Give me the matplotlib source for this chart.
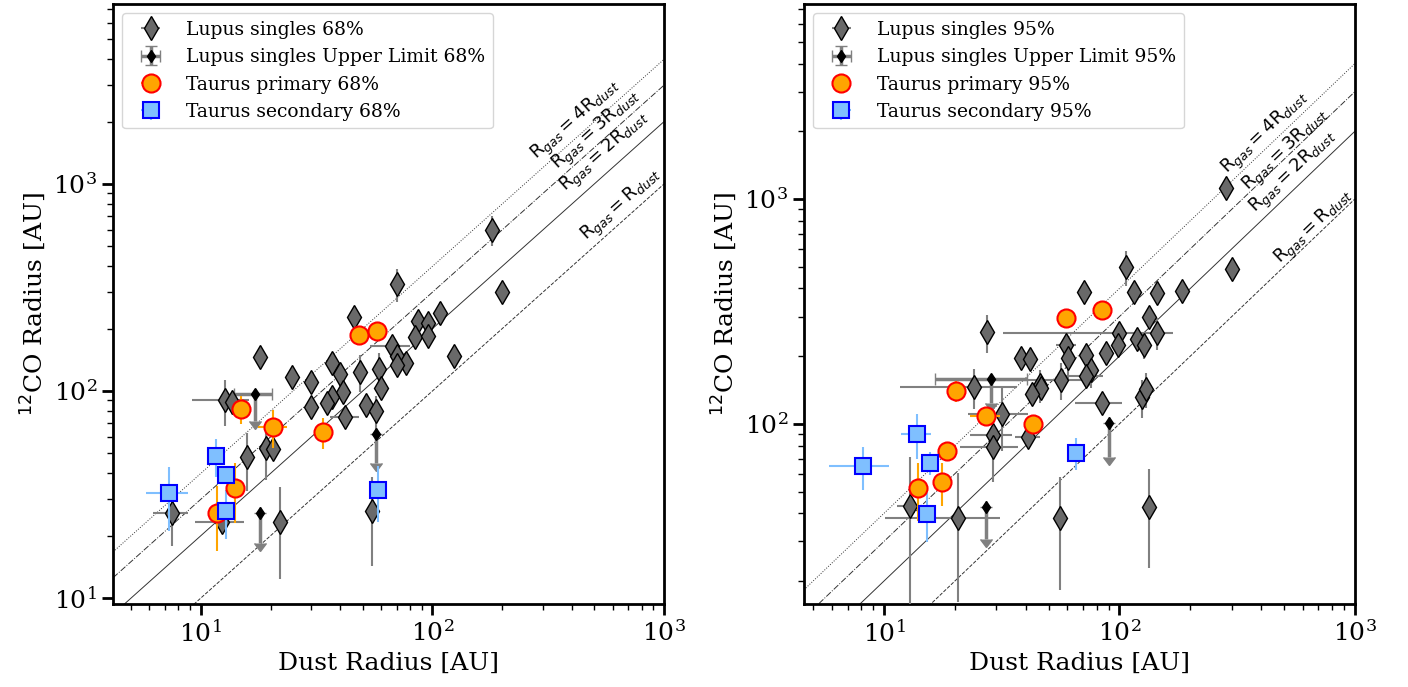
import numpy as np
import matplotlib
matplotlib.use('Agg')
import matplotlib.pyplot as plt

plt.rcParams['font.family'] = 'DejaVu Serif'

# ---- 68% panel ----
lup68_x = [180, 200, 70, 46, 108, 87, 96, 84, 96, 67, 70, 77, 70, 124, 29.8, 36.7, 40, 48.5, 59,
           60, 41, 37, 35, 29.8, 42, 51.5, 57, 18.1, 24.7, 12.7, 13.7, 19.1, 20.4, 15.9, 7.5, 12.4, 21.9, 55]
lup68_y = [600, 300, 330, 228, 238, 218, 213, 182, 185, 165, 147, 137, 134, 147, 110, 136, 121, 124, 128,
           103, 99, 94, 88, 84, 75, 86, 80, 146, 117, 90.6, 88.5, 53, 52.6, 48, 25.8, 23.3, 23.3, 26.3]
lup68_xerr = [0, 0, 0, 0, 0, 0, 0, 0, 0, 13, 0, 0, 0, 0, 0, 0, 0, 0, 0,
              0, 0, 0, 0, 0, 6, 0, 0, 0, 0, 3.5, 0, 0, 0, 0, 1.3, 3, 0, 0]
lup68_yerr = [100, 0, 60, 0, 30, 0, 0, 0, 0, 0, 0, 0, 0, 0, 0, 12, 15, 25, 25,
              0, 0, 0, 0, 0, 0, 0, 15, 12, 0, 23, 0, 16, 0, 15, 8, 0, 11, 12]

ul68_x = [17.1, 57, 18.1]
ul68_y = [97, 62, 25.8]
ul68_len = [25, 17, 7.4]
ul68_xerr = [3.2, 0, 0]

pri68_x = [48, 57.4, 14.9, 20.6, 33.6, 14, 11.7]
pri68_y = [187, 195, 82, 67, 63.4, 34, 25.8]
pri68_xerr = [0, 0, 0, 3, 0, 0, 0]
pri68_yerr = [0, 0, 13, 14, 11, 11, 9]

sec68_x = [11.6, 12.9, 7.3, 12.8, 58]
sec68_y = [48.5, 39.3, 32, 26.3, 33.2]
sec68_xerr = [0.5, 0, 1.5, 0, 0]
sec68_yerr = [10, 0, 11, 7, 10]

# ---- 95% panel ----
lup95_x = [107, 71, 115, 145, 185, 283, 300, 133, 27.4, 100, 145, 119, 127, 99, 59.5, 88, 72, 60.6, 38,
           41.8, 76, 72, 56.6, 46, 46.5, 42.7, 24.2, 31.8, 41, 29.1, 29.1, 84, 125, 130, 12.9, 20.6, 56, 133]
lup95_y = [499, 386, 386, 382, 390, 1119, 489, 299, 256, 254, 254, 239, 224, 224, 224, 207, 203, 196, 196,
           194, 174, 163, 157, 149, 145, 136, 146, 110, 87.5, 89, 79, 124, 131, 143, 43.3, 38.2, 38.2, 42.8]
lup95_xerr = [0, 0, 0, 0, 0, 0, 0, 0, 0, 68, 0, 0, 0, 0, 6, 0, 0, 0, 0,
              0, 0, 13, 20, 0, 0, 0, 12.5, 9, 5, 6, 8, 19, 0, 0, 1.5, 10.5, 0, 0]
lup95_yerr = [90, 0, 40, 40, 40, 100, 0, 30, 50, 0, 40, 0, 30, 0, 0, 0, 0, 40, 0,
              0, 30, 0, 30, 25, 0, 0, 30, 34, 0, 0, 24, 0, 25, 25, 28, 22, 20, 20]

ul95_x = [28.5, 90, 27.2]
ul95_y = [158, 100.5, 42.8]
ul95_len = [34, 29, 12]
ul95_xerr = [12, 0, 0]

pri95_x = [59, 84, 20.2, 27.2, 43, 18.5, 17.7, 14]
pri95_y = [296, 321, 140, 108.5, 100, 75.9, 55.2, 52]
pri95_xerr = [0, 0, 0, 4, 0, 0, 0, 0]
pri95_yerr = [0, 0, 15, 0, 8, 7, 12, 15]

sec95_x = [65.6, 13.8, 8.15, 15.7, 15.2]
sec95_y = [74.3, 90, 65, 67, 39.8]
sec95_xerr = [0, 2, 2.3, 0, 0]
sec95_yerr = [12, 20, 14, 8, 10]

factors = [1, 2, 3, 4]
line_styles = ['--', '-', '-.', ':']
line_labels = ['R$_{gas}$$=$R$_{dust}$', 'R$_{gas}$$=$2R$_{dust}$',
               'R$_{gas}$$=$3R$_{dust}$', 'R$_{gas}$$=$4R$_{dust}$']


def draw_panel(ax, pct, lup, ul, pri, sec, xlim, ylim, label_pos):
    ax.set_xscale('log')
    ax.set_yscale('log')
    ax.set_xlim(*xlim)
    ax.set_ylim(*ylim)

    xs = np.array(xlim)
    for k, ls in zip(factors, line_styles):
        ax.plot(xs, k * xs, ls=ls, color='k', lw=0.7, alpha=0.8, zorder=1)

    ax.errorbar(lup[0], lup[1], xerr=lup[2], yerr=lup[3], fmt='d', ms=12, mfc='dimgray', mec='k',
                mew=1, ecolor='gray', elinewidth=1.5, zorder=3, label=f'Lupus singles {pct}')
    ax.errorbar(ul[0], ul[1], xerr=ul[3], yerr=ul[2], uplims=True, fmt='d', ms=6, color='gray',
                mfc='k', mec='k', ecolor='gray', elinewidth=2.5, capsize=4, zorder=3,
                label=f'Lupus singles Upper Limit {pct}')
    ax.errorbar(pri[0], pri[1], xerr=pri[2], yerr=pri[3], fmt='o', ms=13, mfc='orange', mec='red',
                mew=1.5, ecolor='orange', elinewidth=1.5, zorder=4, label=f'Taurus primary {pct}')
    ax.errorbar(sec[0], sec[1], xerr=sec[2], yerr=sec[3], fmt='s', ms=12, mfc='#7fbfff', mec='blue',
                mew=1.5, ecolor='#7fbfff', elinewidth=1.5, zorder=4, label=f'Taurus secondary {pct}')

    # labels along the lines
    fig.canvas.draw()
    p1 = ax.transData.transform((xlim[0], xlim[0]))
    p2 = ax.transData.transform((xlim[1], xlim[1]))
    angle = np.degrees(np.arctan2(p2[1] - p1[1], p2[0] - p1[0]))
    for lab, pos in zip(line_labels, label_pos):
        ax.text(pos[0], pos[1], lab, rotation=angle, rotation_mode='anchor', ha='center', va='center',
                fontsize=13, family='DejaVu Sans', zorder=5)

    ax.set_xlabel('Dust Radius [AU]', fontsize=18)
    ax.set_ylabel('$^{12}$CO Radius [AU]', fontsize=18)
    ax.tick_params(which='major', length=8, width=2, labelsize=18)
    ax.tick_params(which='minor', length=4, width=1)
    for sp in ax.spines.values():
        sp.set_linewidth(2)
    ax.legend(loc='upper left', fontsize=13.5, handlelength=2.2)


fig, axes = plt.subplots(1, 2, figsize=(14.08, 6.87), dpi=100)
fig.subplots_adjust(left=0.0803, right=0.9623, bottom=0.1208, top=0.9942, wspace=0.254)

draw_panel(axes[0], '68%',
           (lup68_x, lup68_y, lup68_xerr, lup68_yerr),
           (ul68_x, ul68_y, ul68_len, ul68_xerr),
           (pri68_x, pri68_y, pri68_xerr, pri68_yerr),
           (sec68_x, sec68_y, sec68_xerr, sec68_yerr),
           (4.18, 1000), (9.36, 7400),
           [(659, 793), (557, 1429), (514, 1824), (418, 2037)])
draw_panel(axes[1], '95%',
           (lup95_x, lup95_y, lup95_xerr, lup95_yerr),
           (ul95_x, ul95_y, ul95_len, ul95_xerr),
           (pri95_x, pri95_y, pri95_xerr, pri95_yerr),
           (sec95_x, sec95_y, sec95_xerr, sec95_yerr),
           (4.57, 1000), (15.8, 7360),
           [(670, 751), (550, 1318), (508, 1652), (418, 1964)])

fig.savefig('out.png', dpi=100)
